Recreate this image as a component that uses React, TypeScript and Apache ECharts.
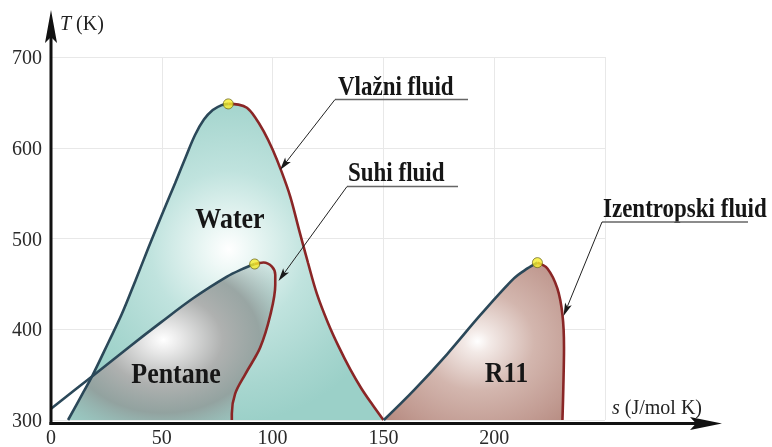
import React, { useEffect, useRef } from "react";
import * as echarts from "echarts";

// ---- data (s in J/mol K, T in K) ----
const xTicks = [0, 50, 100, 150, 200];
const yTicks = [300, 400, 500, 600, 700];

const waterLiquid = [[7.7, 300], [14, 328], [18.5, 348], [26, 386], [32, 417], [38, 453], [44, 490], [50, 526], [56, 561], [61, 591], [65, 614], [69, 631], [73, 641.5], [77, 647], [80, 648.3]];
const waterVapor = [[80, 648.3], [84.6, 647.5], [88.4, 644], [92, 634], [96, 618], [100, 598], [104, 574], [108, 546], [112, 509], [116, 473], [120, 439], [125, 407], [130, 380], [135, 356], [140, 335], [145, 317], [150, 300]];

const pentaneLiquid = [[0, 312.4], [18.5, 348], [35, 380], [49.3, 407], [64.3, 434.4], [79.4, 458], [86, 466], [91.9, 471.9]];
const pentaneVapor = [[91.9, 471.9], [95.9, 473.6], [99.7, 469], [101.2, 460], [101.2, 449], [99, 416], [94.4, 380], [87.7, 350.6], [83.1, 329], [81.6, 307], [81.6, 300]];

const r11Liquid = [[150.2, 300], [163.7, 332.6], [178.8, 372.7], [193.9, 416], [208.9, 456], [215, 467], [219.5, 473.4]];
const r11Vapor = [[219.5, 473.4], [224, 467], [228.5, 445], [230.8, 416], [231.5, 380], [231.2, 336], [230.8, 300]];

const criticalPoints = [[80, 648.3], [91.9, 471.9], [219.5, 473.4]];

const fluidNames = ["Water", "Pentane", "R11"];
const annotations = ["Vlažni fluid", "Suhi fluid", "Izentropski fluid"];

const FONT = '"Liberation Serif", "Times New Roman", serif';
const BLUE = "#2b4859";
const RED = "#8a2626";

function pointer(x1: number, y1: number, x2: number, y2: number): any[] {
  const dx = x2 - x1, dy = y2 - y1;
  const L = Math.hypot(dx, dy);
  const ux = dx / L, uy = dy / L;
  const hl = 13, hw = 3.6;
  const bx = x2 - ux * hl, by = y2 - uy * hl;
  const nx = bx + ux * 3, ny = by + uy * 3;
  return [
    { type: "line", z: 100, shape: { x1, y1, x2: nx, y2: ny }, style: { stroke: "#222", lineWidth: 1 } },
    {
      type: "polygon", z: 100,
      shape: { points: [[x2, y2], [bx - uy * hw, by + ux * hw], [nx, ny], [bx + uy * hw, by - ux * hw]] },
      style: { fill: "#1a1a1a" },
    },
  ];
}

function label(text: string, x: number, y: number, size: number, align: string, sy: number): any {
  return {
    type: "text", z: 100, x, y, scaleY: sy,
    style: { text, fill: "#161616", font: `bold ${size}px ${FONT}`, align, verticalAlign: "middle" },
  };
}

export default function App() {
  const ref = useRef<HTMLDivElement>(null);
  useEffect(() => {
    if (!ref.current) return;
    const chart = echarts.init(ref.current, undefined, { renderer: "svg" });

    const waterFill = new echarts.graphic.RadialGradient(0.51, 0.46, 0.55, [
      { offset: 0, color: "#ffffff" },
      { offset: 0.12, color: "#eef8f6" },
      { offset: 0.45, color: "#c0e3de" },
      { offset: 0.8, color: "#a7d6cf" },
      { offset: 1, color: "#9bd0c8" },
    ]);
    const pentaneFill = new echarts.graphic.RadialGradient(0.46, 0.49, 0.75, [
      { offset: 0, color: "#ffffff" },
      { offset: 0.1, color: "#ebebeb" },
      { offset: 0.38, color: "#afb1b0" },
      { offset: 0.62, color: "rgba(145,156,154,0.88)" },
      { offset: 0.88, color: "rgba(150,180,176,0.3)" },
      { offset: 1, color: "rgba(160,200,195,0)" },
    ]);
    const r11Fill = new echarts.graphic.RadialGradient(0.52, 0.5, 0.7, [
      { offset: 0, color: "#ffffff" },
      { offset: 0.1, color: "#f3eae7" },
      { offset: 0.45, color: "#d3b6ae" },
      { offset: 0.8, color: "#c29c93" },
      { offset: 1, color: "#b78c82" },
    ]);

    const waterPoly = [...waterLiquid, ...waterVapor.slice(1)];
    const pentanePoly = [
      ...waterLiquid.filter((p) => p[1] <= 348),
      ...pentaneLiquid.filter((p) => p[0] > 18.5),
      ...pentaneVapor.slice(1),
    ];
    const r11Poly = [...r11Liquid, ...r11Vapor.slice(1)];

    const polySeries = (name: string, pts: number[][], fill: any, z: number) => ({
      type: "custom",
      name,
      data: pts,
      encode: { x: 0, y: 1 },
      z,
      silent: true,
      renderItem: (params: any, api: any) => {
        if (params.dataIndex !== 0) return null;
        const points = pts.map((p) => api.coord(p));
        return { type: "polygon", shape: { points, smooth: 0 }, style: { fill } };
      },
    });

    const lineSeries = (data: number[][], color: string) => ({
      type: "line",
      data,
      smooth: 0.35,
      showSymbol: false,
      silent: true,
      lineStyle: { color, width: 2.6 },
      z: 5,
    });

    const option: any = {
      animation: false,
      grid: { left: 51, right: 167, top: 57, bottom: 24 },
      xAxis: {
        type: "value",
        min: 0,
        max: 250,
        interval: 50,
        axisLine: { show: false },
        axisTick: { show: false },
        splitLine: { show: true, lineStyle: { color: "#e8e8e8", width: 1 } },
        axisLabel: {
          margin: 7,
          color: "#2a2a2a",
          fontFamily: FONT,
          fontSize: 20,
          formatter: (v: number) => (xTicks.includes(v) ? String(v) : ""),
        },
      },
      yAxis: {
        type: "value",
        min: 300,
        max: 700,
        interval: 100,
        axisLine: { show: false },
        axisTick: { show: false },
        splitLine: { show: true, lineStyle: { color: "#e8e8e8", width: 1 } },
        axisLabel: {
          margin: 9,
          color: "#2a2a2a",
          fontFamily: FONT,
          fontSize: 20,
          formatter: (v: number) => (yTicks.includes(v) ? String(v) : ""),
        },
      },
      series: [
        polySeries("Water", waterPoly, waterFill, 1),
        polySeries("Pentane", pentanePoly, pentaneFill, 2),
        polySeries("R11", r11Poly, r11Fill, 2),
        lineSeries(waterLiquid, BLUE),
        lineSeries(waterVapor, RED),
        lineSeries(pentaneLiquid, BLUE),
        lineSeries(pentaneVapor, RED),
        lineSeries(r11Liquid, BLUE),
        lineSeries(r11Vapor, RED),
        {
          type: "scatter",
          data: criticalPoints,
          symbol: "circle",
          symbolSize: 10,
          silent: true,
          z: 8,
          itemStyle: { color: "#f6ee2c", borderColor: "#6f6a1c", borderWidth: 1 },
        },
      ],
      graphic: [
        // axes with arrows
        { type: "line", z: 100, shape: { x1: 51, y1: 425, x2: 51, y2: 30 }, style: { stroke: "#111", lineWidth: 3 } },
        { type: "polygon", z: 100, shape: { points: [[51, 10], [57, 43], [51, 37], [45, 43]] }, style: { fill: "#111" } },
        { type: "line", z: 100, shape: { x1: 49.5, y1: 423.5, x2: 700, y2: 423.5 }, style: { stroke: "#111", lineWidth: 3 } },
        { type: "polygon", z: 100, shape: { points: [[722, 423.5], [690, 417], [696, 423.5], [690, 430]] }, style: { fill: "#111" } },
        {
          type: "text", z: 100, x: 60, y: 23,
          style: {
            text: "{i|T} (K)",
            fill: "#222",
            font: `20px ${FONT}`,
            verticalAlign: "middle",
            rich: { i: { fontStyle: "italic", fontSize: 20, fontFamily: FONT, fill: "#222" } },
          },
        },
        {
          type: "text", z: 100, x: 612, y: 407,
          style: {
            text: "{i|s} (J/mol K)",
            fill: "#222",
            font: `20px ${FONT}`,
            verticalAlign: "middle",
            rich: { i: { fontStyle: "italic", fontSize: 20, fontFamily: FONT, fill: "#222" } },
          },
        },
        // fluid names
        label(fluidNames[0], 230, 218, 26, "center", 1.15),
        label(fluidNames[1], 176, 373, 26, "center", 1.15),
        label(fluidNames[2], 506.5, 372, 26, "center", 1.15),
        // annotations
        label(annotations[0], 338, 85, 23, "left", 1.2),
        label(annotations[1], 348, 171, 23, "left", 1.2),
        label(annotations[2], 603, 207, 23, "left", 1.2),
        { type: "line", z: 100, shape: { x1: 335, y1: 99.5, x2: 468, y2: 99.5 }, style: { stroke: "#666", lineWidth: 1.6 } },
        { type: "line", z: 100, shape: { x1: 347, y1: 186.5, x2: 458, y2: 186.5 }, style: { stroke: "#666", lineWidth: 1.6 } },
        { type: "line", z: 100, shape: { x1: 602, y1: 222, x2: 748, y2: 222 }, style: { stroke: "#666", lineWidth: 1.6 } },
        ...pointer(335, 99.5, 280, 170),
        ...pointer(347, 186.5, 278.5, 281),
        ...pointer(602, 222, 563.5, 316),
      ],
    };
    chart.setOption(option);
    return () => chart.dispose();
  }, []);
  return <div ref={ref} style={{ position: "fixed", left: 0, top: 0, width: 772, height: 447 }} />;
}
